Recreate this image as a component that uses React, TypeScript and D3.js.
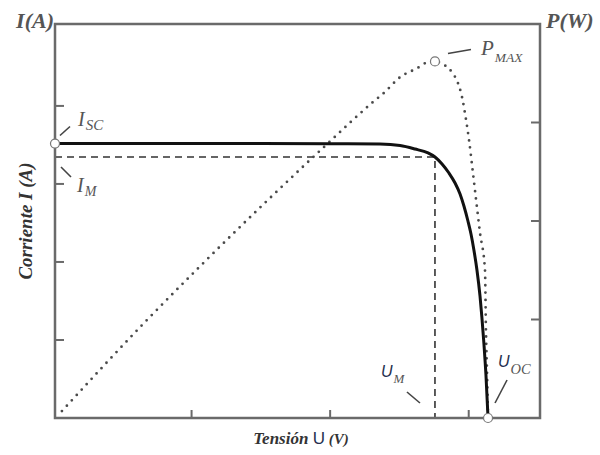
import React, { useEffect, useRef } from 'react';
import * as d3 from 'd3';

// curva I-U (tensión en V, corriente en A)
const uValues = [0, 1.046, 1.985, 2.345, 2.49, 2.598, 2.692, 2.742, 2.793, 2.843, 2.887, 2.923, 2.951, 2.98, 3.002, 3.023, 3.045, 3.067, 3.081, 3.096, 3.11, 3.125];
const iValues = [3.518, 3.518, 3.516, 3.512, 3.493, 3.448, 3.397, 3.346, 3.256, 3.14, 3.012, 2.871, 2.717, 2.525, 2.358, 2.153, 1.897, 1.564, 1.282, 0.936, 0.551, 0];

// curva de potencia (punteada)
const pU = [0.05, 0.65, 1.061, 1.963, 2.28, 2.381, 2.49, 2.612, 2.685, 2.742, 2.814, 2.865, 2.908, 2.937, 2.966, 2.988, 3.016, 3.045, 3.067, 3.103, 3.11, 3.118, 3.125];
const pValues = [0.07, 0.975, 1.56, 2.78, 3.19, 3.31, 3.46, 3.55, 3.61, 3.62, 3.58, 3.51, 3.4, 3.26, 3.03, 2.82, 2.49, 2.14, 1.88, 1.5, 0.89, 0.44, 0];

// puntos característicos
const Isc = 3.518;
const Im = 3.346;
const Um = 2.742;
const Uoc = 3.125;
const Pmax = 3.62;

const uTicks = [1, 2, 3];
const iTicks = [1, 2, 3, 4];
const pTicks = [1, 2, 3];

const W = 600;
const H = 455;
const left = 55, right = 540, top = 24, bottom = 418;
const axisColor = '#6a6a6a';
const labelColor = '#555';
const uColor = '#26304f';
const serif = '"Liberation Serif", "DejaVu Serif", serif';
const sans = '"Liberation Sans", Arial, sans-serif';

const SolarCurve = () => {
  const ref = useRef<SVGSVGElement | null>(null);

  useEffect(() => {
    const svg = d3.select(ref.current);
    svg.selectAll('*').remove();

    const x = d3.scaleLinear().domain([0, 3.5]).range([left, right]);
    const yI = d3.scaleLinear().domain([0, 5.05]).range([bottom, top]);
    const yP = d3.scaleLinear().domain([0, 4]).range([bottom, top]);

    svg.append('rect').attr('width', W).attr('height', H).attr('fill', '#fff');

    // dashed guides for Im / Um
    svg.append('path')
      .attr('d', `M${x(0)},${yI(Im)}H${x(Um)}V${bottom}`)
      .attr('fill', 'none')
      .attr('stroke', '#333')
      .attr('stroke-width', 1.6)
      .attr('stroke-dasharray', '7 5');

    // power curve
    const pLine = d3.line<number>()
      .x((_, i) => x(pU[i]))
      .y((d) => yP(d))
      .curve(d3.curveMonotoneX);
    svg.append('path')
      .attr('d', pLine(pValues))
      .attr('fill', 'none')
      .attr('stroke', '#4a4a4a')
      .attr('stroke-width', 2.8)
      .attr('stroke-linecap', 'round')
      .attr('stroke-dasharray', '0 7.3');

    // current curve
    const iLine = d3.line<number>()
      .x((_, i) => x(uValues[i]))
      .y((d) => yI(d))
      .curve(d3.curveMonotoneX);
    svg.append('path')
      .attr('d', iLine(iValues))
      .attr('fill', 'none')
      .attr('stroke', '#111')
      .attr('stroke-width', 3);

    // frame
    svg.append('rect')
      .attr('x', left).attr('y', top)
      .attr('width', right - left).attr('height', bottom - top)
      .attr('fill', 'none')
      .attr('stroke', axisColor)
      .attr('stroke-width', 2.5);

    // inward ticks
    const ticks = svg.append('g').attr('stroke', axisColor).attr('stroke-width', 2);
    uTicks.forEach((t) => {
      ticks.append('line').attr('x1', x(t) - 2).attr('x2', x(t) - 2).attr('y1', bottom).attr('y2', bottom - 8);
    });
    iTicks.forEach((t) => {
      ticks.append('line').attr('x1', left).attr('x2', left + 9).attr('y1', yI(t)).attr('y2', yI(t));
    });
    pTicks.forEach((t) => {
      ticks.append('line').attr('x1', right).attr('x2', right - 9).attr('y1', yP(t)).attr('y2', yP(t));
    });

    // leader lines
    const leaders: [number, number, number, number][] = [
      [x(0) + 5, yI(Isc) - 8, x(0) + 15, yI(Isc) - 17],
      [x(0) + 6, yI(Im) + 10, x(0) + 16, yI(Im) + 20],
      [x(Um) + 13, yP(Pmax) - 8, x(Um) + 36, yP(Pmax) - 12],
      [x(Um) - 28, bottom - 26, x(Um) - 15, bottom - 15],
      [x(Uoc) + 7, bottom - 15, x(Uoc) + 19, bottom - 38],
    ];
    leaders.forEach(([x1, y1, x2, y2]) => {
      svg.append('line')
        .attr('x1', x1).attr('y1', y1).attr('x2', x2).attr('y2', y2)
        .attr('stroke', '#444').attr('stroke-width', 1.6);
    });

    // marker circles
    const marks: [number, number][] = [
      [x(0), yI(Isc)],
      [x(Um), yP(Pmax)],
      [x(Uoc), bottom],
    ];
    marks.forEach(([cx, cy]) => {
      svg.append('circle')
        .attr('cx', cx).attr('cy', cy).attr('r', 4.5)
        .attr('fill', '#fff')
        .attr('stroke', '#777')
        .attr('stroke-width', 1.2);
    });

    // labels with subscript
    const subLabel = (
      px: number, py: number, main: string, sub: string,
      mainFont: string, mainColor: string, size: number, subSize: number, dy: number
    ) => {
      const t = svg.append('text')
        .attr('x', px).attr('y', py)
        .attr('font-style', 'italic')
        .attr('fill', labelColor);
      t.append('tspan')
        .attr('font-family', mainFont)
        .attr('font-size', size)
        .attr('fill', mainColor)
        .text(main);
      t.append('tspan')
        .attr('font-family', serif)
        .attr('font-size', subSize)
        .attr('dy', dy)
        .attr('dx', 1)
        .text(sub);
    };

    subLabel(x(0) + 23, yI(Isc) - 18, 'I', 'SC', serif, labelColor, 20, 15, 4);
    subLabel(x(0) + 22, yI(Im) + 35, 'I', 'M', serif, labelColor, 20, 14, 4);
    subLabel(x(Um) + 46, yP(Pmax) - 6, 'P', 'MAX', serif, labelColor, 21, 13.5, 7);
    subLabel(x(Um) - 54, bottom - 41, 'U', 'M', sans, uColor, 16, 13, 6);
    subLabel(x(Uoc) + 10, bottom - 51, 'U', 'OC', sans, uColor, 16, 14.5, 7);

    // axis names at corners
    svg.append('text')
      .attr('x', left - 1).attr('y', 28)
      .attr('text-anchor', 'end')
      .attr('font-family', serif).attr('font-style', 'italic').attr('font-weight', 'bold')
      .attr('font-size', 22).attr('fill', labelColor)
      .text('I(A)');
    svg.append('text')
      .attr('x', right + 6).attr('y', 28)
      .attr('font-family', serif).attr('font-style', 'italic').attr('font-weight', 'bold')
      .attr('font-size', 22).attr('fill', labelColor)
      .text('P(W)');

    // axis titles
    svg.append('text')
      .attr('transform', `translate(32, ${(top + bottom) / 2}) rotate(-90)`)
      .attr('text-anchor', 'middle')
      .attr('font-family', serif).attr('font-style', 'italic').attr('font-weight', 'bold')
      .attr('font-size', 19).attr('fill', '#333')
      .text('Corriente I (A)');

    const xt = svg.append('text')
      .attr('x', 301).attr('y', 444)
      .attr('text-anchor', 'middle')
      .attr('font-family', serif).attr('font-style', 'italic').attr('font-weight', 'bold')
      .attr('font-size', 17).attr('fill', '#333');
    xt.append('tspan').text('Tensión ');
    xt.append('tspan')
      .attr('font-family', sans).attr('font-style', 'normal').attr('font-weight', 'normal')
      .attr('font-size', 17).attr('fill', uColor)
      .text('U');
    xt.append('tspan').attr('font-size', 15).text(' (V)');
  }, []);

  return <svg ref={ref} width={W} height={H} style={{ display: 'block' }} />;
};

export default function App() {
  return (
    <div style={{ position: 'fixed', left: 0, top: 0 }}>
      <SolarCurve />
    </div>
  );
}
